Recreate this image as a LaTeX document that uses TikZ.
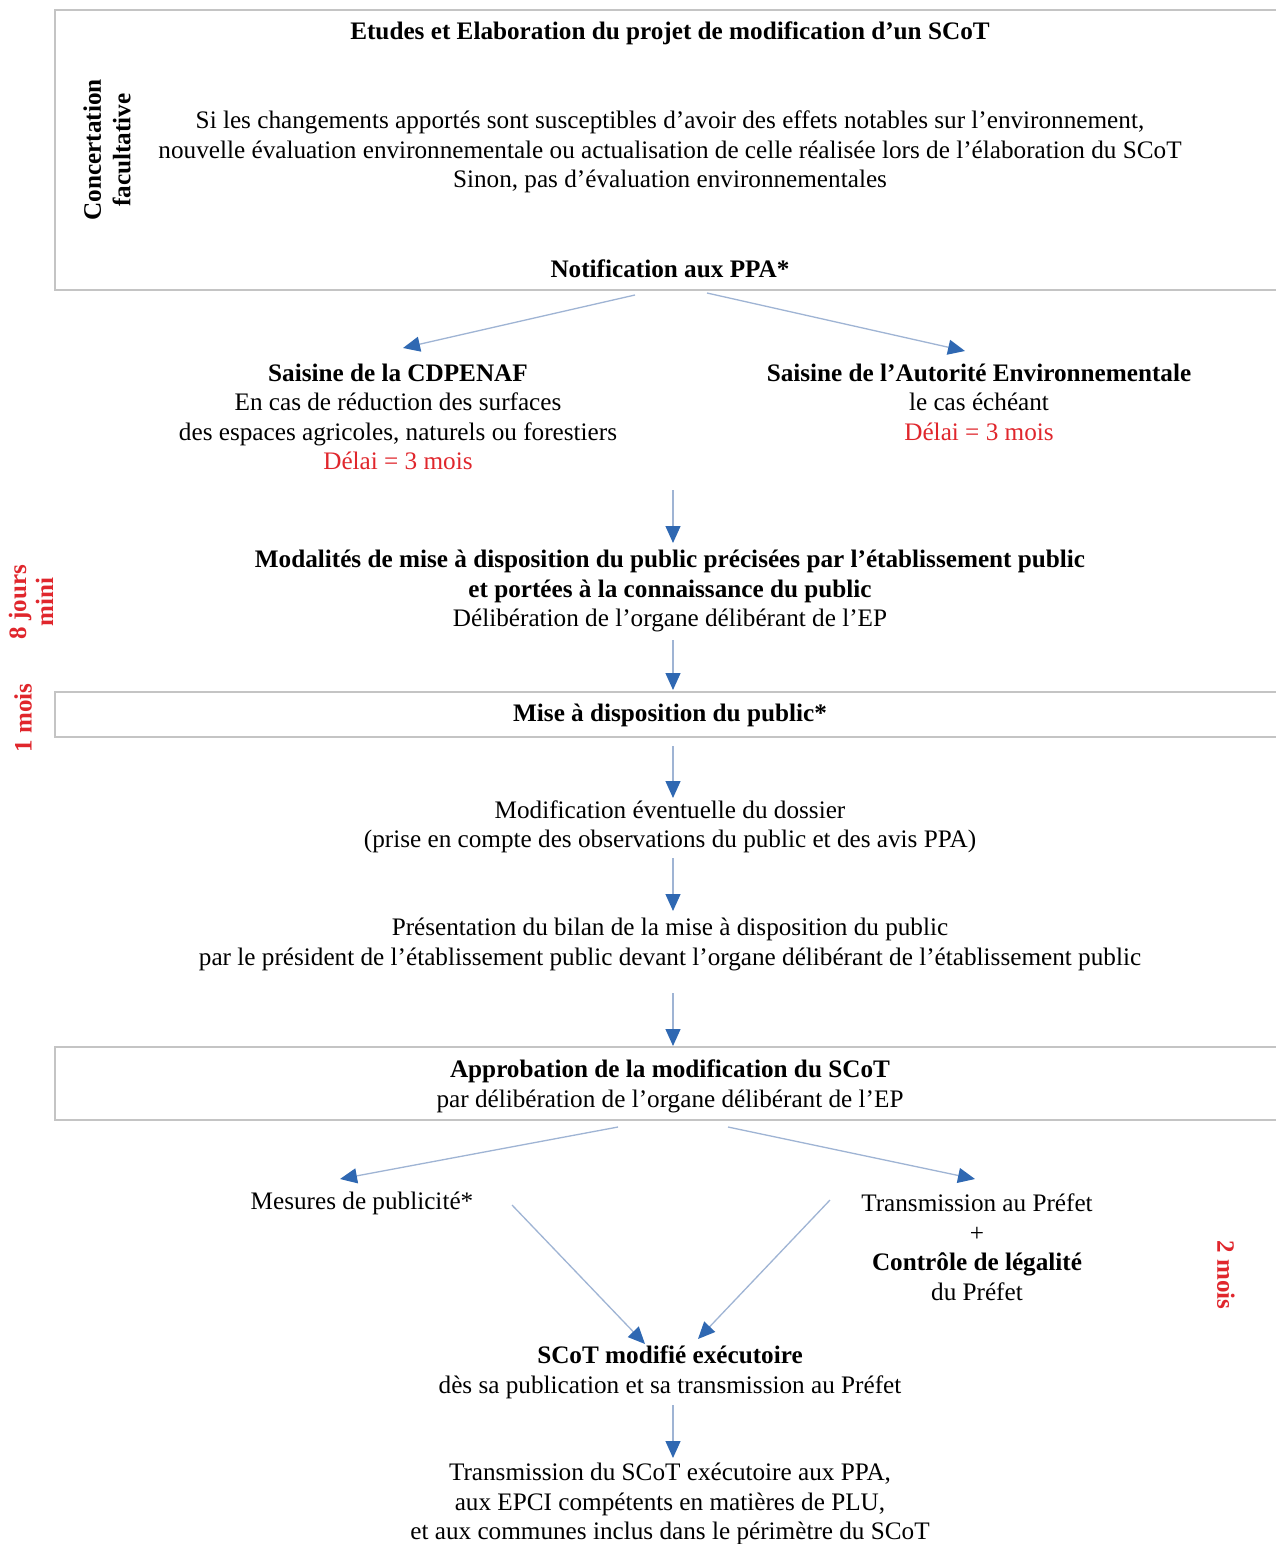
\documentclass[tikz,border=0pt]{standalone}
\usepackage{fontspec}
\setmainfont{Liberation Serif}
\usetikzlibrary{arrows.meta}
\definecolor{boxgrey}{HTML}{C4C4C4}
\definecolor{linkblue}{HTML}{9FB4D4}
\definecolor{tipblue}{HTML}{2F68B2}
\definecolor{delayred}{HTML}{E0262C}
\begin{document}
\begin{tikzpicture}[x=1pt,y=-1pt,
  txt/.style={font=\fontsize{25.2}{29.5}\selectfont, align=center, inner sep=0pt},
  btxt/.style={txt, font=\fontsize{25.2}{29.5}\selectfont\bfseries},
  delaytxt/.style={txt, font=\fontsize{25}{27}\selectfont\bfseries, text=delayred},
  flow/.style={draw=linkblue, line width=1.3pt, -{Triangle[length=17pt,width=15pt,color=tipblue]}},
  frame/.style={draw=boxgrey, line width=1.3pt}]
\useasboundingbox (0,0) rectangle (1275,1544);
\fill[white] (0,0) rectangle (1275,1544);

% frames
\draw[frame] (1280,10) -- (55,10) -- (55,290) -- (1280,290);
\draw[frame] (1280,692) -- (55,692) -- (55,737) -- (1280,737);
\draw[frame] (1280,1047) -- (55,1047) -- (55,1120) -- (1280,1120);

% top box
\node[btxt] (title) at (670,33) {Etudes et Elaboration du projet de modification d’un SCoT};
\node[btxt, rotate=90] (concert) at (107,150) {Concertation\\facultative};
\node[txt] (para) at (670,152) {Si les changements apportés sont susceptibles d’avoir des effets notables sur l’environnement,\\nouvelle évaluation environnementale ou actualisation de celle réalisée lors de l’élaboration du SCoT\\Sinon, pas d’évaluation environnementales};
\node[btxt] (notif) at (670,269) {Notification aux PPA*};

% saisines
\node[txt] (cdpenaf) at (398,417) {\textbf{Saisine de la CDPENAF}\\En cas de réduction des surfaces\\des espaces agricoles, naturels ou forestiers\\\textcolor{delayred}{Délai = 3 mois}};
\node[txt] (autorite) at (979,402) {\textbf{Saisine de l’Autorité Environnementale}\\le cas échéant\\\textcolor{delayred}{Délai = 3 mois}};

\node[txt] (modal) at (670,591) {\textbf{Modalités de mise à disposition du public précisées par l’établissement public}\\\textbf{et portées à la connaissance du public}\\Délibération de l’organe délibérant de l’EP};
\node[btxt] (mise) at (670,715) {Mise à disposition du public*};
\node[txt] (modif) at (670,827) {Modification éventuelle du dossier\\(prise en compte des observations du public et des avis PPA)};
\node[txt] (present) at (670,944.5) {Présentation du bilan de la mise à disposition du public\\par le président de l’établissement public devant l’organe délibérant de l’établissement public};
\node[txt] (approb) at (670,1086.5) {\textbf{Approbation de la modification du SCoT}\\par délibération de l’organe délibérant de l’EP};
\node[txt] (mesures) at (362,1203) {Mesures de publicité*};
\node[txt] (transm) at (977,1247) {Transmission au Préfet\\+\\\textbf{Contrôle de légalité}\\du Préfet};
\node[txt] (exec) at (670,1372.5) {\textbf{SCoT modifié exécutoire}\\dès sa publication et sa transmission au Préfet};
\node[txt] (final) at (670,1504) {Transmission du SCoT exécutoire aux PPA,\\aux EPCI compétents en matières de PLU,\\et aux communes inclus dans le périmètre du SCoT};

% delays
\node[delaytxt, rotate=90] (huit) at (31,602) {8 jours\\mini};
\node[delaytxt, rotate=90] (unmois) at (23,718) {1 mois};
\node[delaytxt, rotate=-90] (deuxmois) at (1226,1275) {2 mois};

% connector coordinates
\coordinate (n1) at (635,295); \coordinate (c1) at (403,348);
\coordinate (n2) at (707,293); \coordinate (a1) at (965,351);
\coordinate (s1) at (673,490); \coordinate (m1) at (673,543);
\coordinate (s2) at (673,640); \coordinate (m2) at (673,690);
\coordinate (s3) at (673,746); \coordinate (m3) at (673,798);
\coordinate (s4) at (673,858); \coordinate (m4) at (673,911);
\coordinate (s5) at (673,993); \coordinate (m5) at (673,1046);
\coordinate (ap1) at (618,1127); \coordinate (me1) at (340,1179);
\coordinate (ap2) at (728,1127); \coordinate (tr1) at (975,1179);
\coordinate (me2) at (512,1205); \coordinate (ex1) at (645,1344);
\coordinate (tr2) at (830,1200); \coordinate (ex2) at (698,1339);
\coordinate (s6) at (673,1405); \coordinate (f1) at (673,1458);

\draw[flow] (n1) -- (c1);
\draw[flow] (n2) -- (a1);
\draw[flow] (s1) -- (m1);
\draw[flow] (s2) -- (m2);
\draw[flow] (s3) -- (m3);
\draw[flow] (s4) -- (m4);
\draw[flow] (s5) -- (m5);
\draw[flow] (ap1) -- (me1);
\draw[flow] (ap2) -- (tr1);
\draw[flow] (me2) -- (ex1);
\draw[flow] (tr2) -- (ex2);
\draw[flow] (s6) -- (f1);
\end{tikzpicture}
\end{document}
